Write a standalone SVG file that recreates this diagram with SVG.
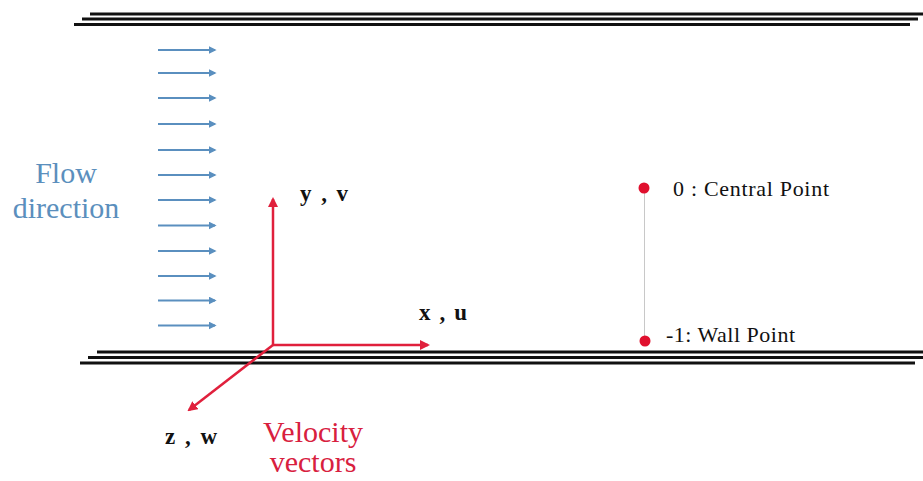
<svg xmlns="http://www.w3.org/2000/svg" width="923" height="481" viewBox="0 0 923 481">
<style>
.wall{stroke:#111;stroke-width:3;fill:none}
.flow{stroke:#5a8fbf;stroke-width:2;fill:none;marker-end:url(#ba)}
.axis{stroke:#e0203c;stroke-width:2.5;fill:none;marker-end:url(#ra)}
.ser{font-family:"Liberation Serif",serif;fill:#111}
.lbl{font-family:"Liberation Serif",serif;font-size:30px}
</style>
<defs>
<marker id="ba" viewBox="0 0 10 10" refX="8" refY="5" markerWidth="4" markerHeight="4" orient="auto" markerUnits="strokeWidth"><path d="M0,0 L10,5 L0,10 z" fill="#5a8fbf"/></marker>
<marker id="ra" viewBox="0 0 10 10" refX="8" refY="5" markerWidth="4" markerHeight="4" orient="auto" markerUnits="strokeWidth"><path d="M0,0 L10,5 L0,10 z" fill="#e0203c"/></marker>
</defs>
<rect width="923" height="481" fill="#fff"/>
<g id="top-wall">
<line class="wall" x1="90" y1="14" x2="923" y2="14"/>
<line class="wall" x1="82" y1="19" x2="918" y2="19"/>
<line class="wall" x1="74" y1="24.5" x2="910" y2="24.5"/>
</g>
<g id="bottom-wall">
<line class="wall" x1="97" y1="352" x2="923" y2="352"/>
<line class="wall" x1="88" y1="357.5" x2="923" y2="357.5"/>
<line class="wall" x1="80" y1="363" x2="915" y2="363"/>
</g>
<g id="flow-arrows">
<line class="flow" x1="158" y1="50" x2="215" y2="50"/>
<line class="flow" x1="158" y1="73" x2="215" y2="73"/>
<line class="flow" x1="158" y1="98" x2="215" y2="98"/>
<line class="flow" x1="158" y1="124" x2="215" y2="124"/>
<line class="flow" x1="158" y1="150" x2="215" y2="150"/>
<line class="flow" x1="158" y1="175" x2="215" y2="175"/>
<line class="flow" x1="158" y1="200" x2="215" y2="200"/>
<line class="flow" x1="158" y1="225.5" x2="215" y2="225.5"/>
<line class="flow" x1="158" y1="251" x2="215" y2="251"/>
<line class="flow" x1="158" y1="276" x2="215" y2="276"/>
<line class="flow" x1="158" y1="300.5" x2="215" y2="300.5"/>
<line class="flow" x1="158" y1="325.5" x2="215" y2="325.5"/>
</g>
<g id="flow-label">
<text class="lbl" fill="#5b8fbd" text-anchor="middle" x="66" y="183">Flow</text>
<text class="lbl" fill="#5b8fbd" text-anchor="middle" x="66" y="218">direction</text>
</g>
<g id="axes">
<line class="axis" x1="273" y1="345" x2="273" y2="199"/>
<line class="axis" x1="273" y1="345" x2="428" y2="345"/>
<line class="axis" x1="273" y1="345" x2="189" y2="410"/>
</g>
<g id="axis-labels">
<text class="ser" font-weight="bold" font-size="23" x="300" y="201" textLength="48">y , v</text>
<text class="ser" font-weight="bold" font-size="23" x="419" y="320" textLength="48">x , u</text>
<text class="ser" font-weight="bold" font-size="23" x="165" y="444" textLength="52">z , w</text>
</g>
<g id="velocity-label">
<text class="lbl" fill="#d8203e" text-anchor="middle" x="313" y="442">Velocity</text>
<text class="lbl" fill="#d8203e" text-anchor="middle" x="313" y="472">vectors</text>
</g>
<g id="points">
<line x1="644.5" y1="188" x2="644.5" y2="341" stroke="#c8c8c8" stroke-width="1"/>
<circle cx="644" cy="188" r="5.5" fill="#e0102e"/>
<circle cx="645" cy="341" r="5.5" fill="#e0102e"/>
<text class="ser" font-size="22" x="673" y="196" textLength="156">0 : Central Point</text>
<text class="ser" font-size="22" x="666" y="342" textLength="129">-1: Wall Point</text>
</g>
</svg>
